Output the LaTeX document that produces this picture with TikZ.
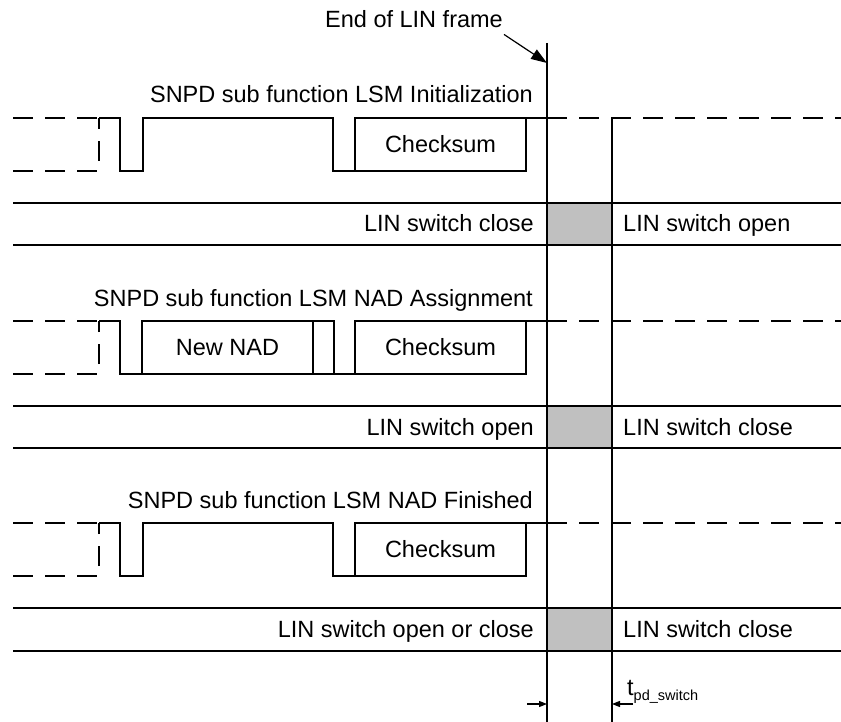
\documentclass[tikz,border=0pt]{standalone}
\usepackage{fontspec}
\setmainfont{Liberation Sans}
\usetikzlibrary{arrows.meta}
\definecolor{switchgray}{RGB}{192,192,192}
\begin{document}
\begin{tikzpicture}[x=1pt,y=-1pt]
% Definição de estilos
\tikzset{
  wave/.style={line width=1.8pt, line join=miter},
  idle/.style={wave, dash pattern=on 20pt off 12pt},
  bar/.style={line width=1.8pt},
  marker/.style={line width=1.2pt},
  pointer/.style={line width=1.2pt, -{Triangle[length=16pt,width=11pt]}},
  tick/.style={line width=1.2pt, -{Triangle[length=8pt,width=6pt]}},
  label/.style={font=\fontsize{23.5}{28}\selectfont, inner sep=1pt},
  busy/.style={fill=switchgray}
}
\useasboundingbox (0,0) rectangle (841,722);

% Janelas de comutação
\fill[busy] (547,203) rectangle (612,245);
\fill[busy] (547,406) rectangle (612,448);
\fill[busy] (547,608) rectangle (612,651);

% Linhas de tempo
\coordinate (frame_end) at (547,63);
\coordinate (switch_done) at (612,118);
\draw[marker] (547,43) -- (547,722);
\draw[marker] (switch_done) -- (612,722);

% Fim do frame LIN
\node[label, anchor=base] (end_lbl) at (414,28) {End of LIN frame};
\draw[pointer] ([yshift=-5pt]end_lbl.south east) -- (frame_end);

% Frame LSM Initialization
\node[label, anchor=base east] (title_init) at (534,103) {SNPD sub function LSM Initialization};
\draw[idle] (13,118) -- (99,118);
\draw[idle] (13,171) -- (99,171) -- (99,118);
\draw[wave] (99,118) -- (120,118) -- (120,171) -- (143,171) -- (143,118) -- (333,118) -- (333,171) -- (526,171) -- (526,118);
\draw[wave] (355,171) -- (355,118) -- (547,118);
\draw[idle] (547,118) -- (841,118);
\node[label] (cs_init) at (440.5,144.5) {Checksum};

\draw[bar] (13,203) -- (841,203);
\draw[bar] (13,245) -- (841,245);
\node[label, anchor=base east] (sw_init_before) at (535,232) {LIN switch close};
\node[label, anchor=base west] (sw_init_after) at (622,232) {LIN switch open};

% Frame LSM NAD Assignment
\node[label, anchor=base east] (title_assign) at (534,306) {SNPD sub function LSM NAD Assignment};
\draw[idle] (13,321) -- (99,321);
\draw[idle] (13,374) -- (99,374) -- (99,321);
\draw[wave] (99,321) -- (120,321) -- (120,374) -- (526,374) -- (526,321);
\draw[wave] (142,374) -- (142,321) -- (334,321) -- (334,374);
\draw[wave] (313,374) -- (313,321);
\draw[wave] (355,374) -- (355,321) -- (547,321);
\draw[idle] (547,321) -- (841,321);
\node[label] (new_nad) at (227.5,347.5) {New NAD};
\node[label] (cs_assign) at (440.5,347.5) {Checksum};

\draw[bar] (13,406) -- (841,406);
\draw[bar] (13,448) -- (841,448);
\node[label, anchor=base east] (sw_assign_before) at (535,435) {LIN switch open};
\node[label, anchor=base west] (sw_assign_after) at (622,435) {LIN switch close};

% Frame LSM NAD Finished
\node[label, anchor=base east] (title_finish) at (534,508) {SNPD sub function LSM NAD Finished};
\draw[idle] (13,523) -- (99,523);
\draw[idle] (13,576) -- (99,576) -- (99,523);
\draw[wave] (99,523) -- (120,523) -- (120,576) -- (143,576) -- (143,523) -- (333,523) -- (333,576) -- (526,576) -- (526,523);
\draw[wave] (355,576) -- (355,523) -- (547,523);
\draw[idle] (547,523) -- (841,523);
\node[label] (cs_finish) at (440.5,549.5) {Checksum};

\draw[bar] (13,608) -- (841,608);
\draw[bar] (13,651) -- (841,651);
\node[label, anchor=base east] (sw_finish_before) at (535,637) {LIN switch open or close};
\node[label, anchor=base west] (sw_finish_after) at (622,637) {LIN switch close};

% Tempo de comutação
\coordinate (tpd_left) at (527,704);
\coordinate (tpd_right) at (633,704);
\draw[tick] (tpd_left) -- (tpd_left -| frame_end);
\draw[tick] (tpd_right) -- (tpd_right -| switch_done);
\node[anchor=base west, inner sep=0pt] (tpd_lbl) at (627,695) {\fontsize{23.5}{28}\selectfont t\raisebox{-5pt}{\fontsize{14.5}{16}\selectfont pd\_switch}};

\end{tikzpicture}
\end{document}
